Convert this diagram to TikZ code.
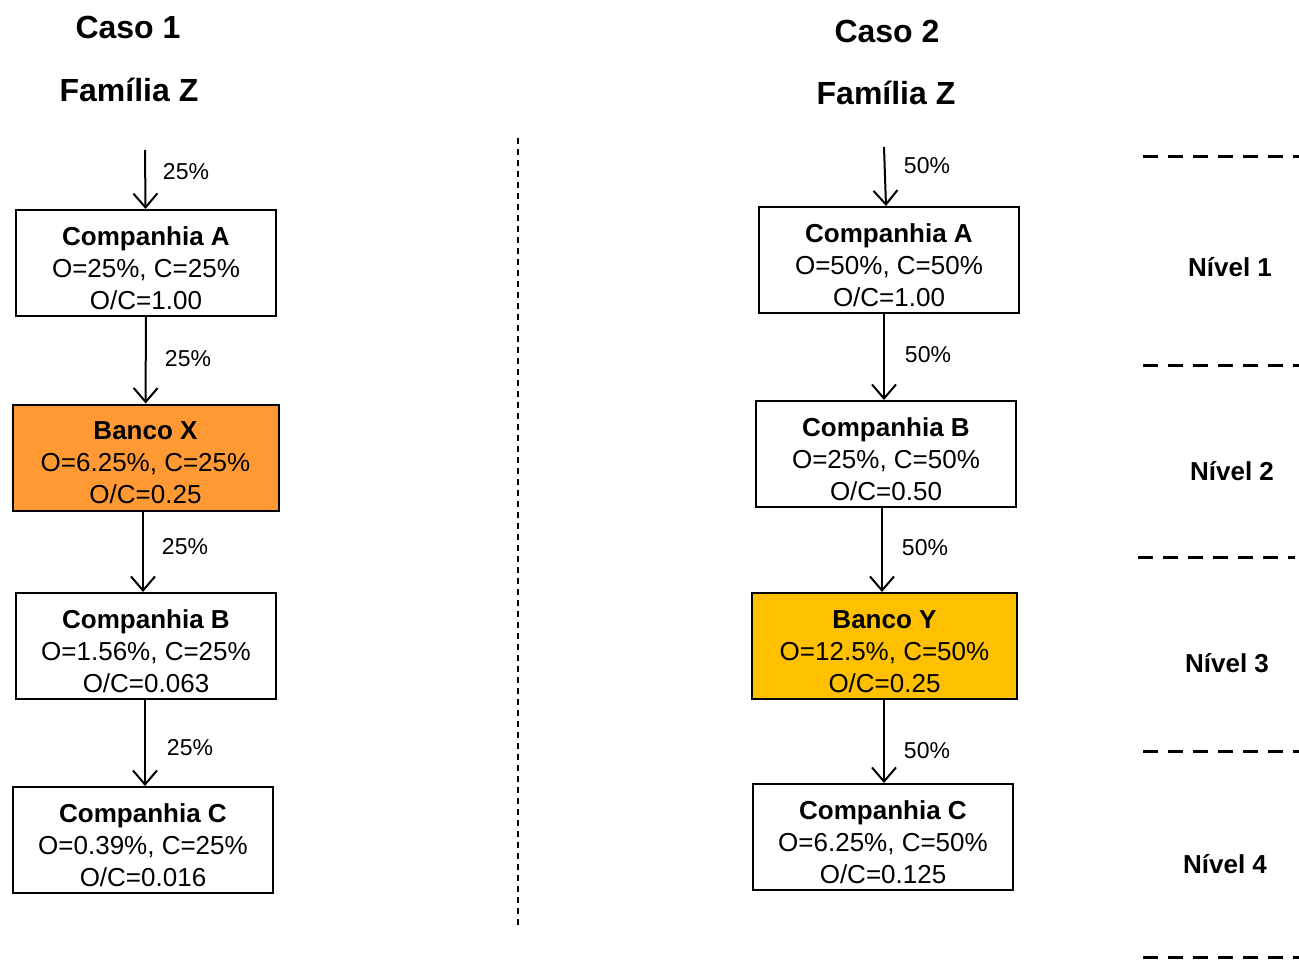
\documentclass[tikz,border=0pt]{standalone}
\usepackage{fontspec}
\setmainfont{Liberation Sans}
\usetikzlibrary{arrows.meta}
\definecolor{bancoorange}{RGB}{255,153,51}
\definecolor{bancoyellow}{RGB}{255,192,0}
% three centred lines, set a little below the middle of the box
\newcommand{\boxlines}[3]{\raisebox{-8pt}[\height][\depth]{\begin{tabular}{@{}c@{}}\textbf{#1}\\#2\\#3\end{tabular}}}
\begin{document}
\begin{tikzpicture}[x=1pt,y=-1pt,
  entity/.style={draw=black,line width=2pt,fill=white,minimum width=260pt,minimum height=106pt,
    inner sep=0pt,align=center,font=\fontsize{26}{32}\selectfont},
  wide/.style={minimum width=266pt},
  pct/.style={font=\fontsize{23}{27}\selectfont,inner sep=0pt},
  title/.style={font=\fontsize{32}{36}\selectfont\bfseries,inner sep=0pt},
  level/.style={font=\fontsize{26}{30}\selectfont\bfseries,inner sep=0pt},
  link/.style={line width=2pt,-{Straight Barb[length=14pt,width=24pt,line width=2pt]}},
  levelline/.style={line width=3pt,dash pattern=on 15pt off 10pt},
  divider/.style={line width=2pt,dash pattern=on 6pt off 5pt}]
\useasboundingbox (0,0) rectangle (1299,960);

% Case 1
\node[title] (t1) at (128,27) {Caso 1};
\node[title] (f1) at (129,90) {Família Z};
\coordinate (in1) at (145,150);
\node[entity] (a1) at (146,263) {\boxlines{Companhia A}{O=25\%, C=25\%}{O/C=1.00}};
\node[entity,wide,fill=bancoorange] (x1) at (145.5,457.5) {\boxlines{Banco X}{O=6.25\%, C=25\%}{O/C=0.25}};
\node[entity] (b1) at (146,646) {\boxlines{Companhia B}{O=1.56\%, C=25\%}{O/C=0.063}};
\node[entity] (c1) at (143,840) {\boxlines{Companhia C}{O=0.39\%, C=25\%}{O/C=0.016}};
\draw[link] (in1) -- (a1);
\draw[link] (a1) -- (x1);
\draw[link] (x1.south -| 143,0) -- (b1.north -| 143,0);
\draw[link] (b1.south -| 145,0) -- (c1.north -| 145,0);
\node[pct] (p11) at (186,172) {25\%};
\node[pct] (p12) at (188,359) {25\%};
\node[pct] (p13) at (185,547) {25\%};
\node[pct] (p14) at (190,748) {25\%};

% separator
\coordinate (d1) at (518,138);
\coordinate (d2) at (518,925);
\draw[divider] (d1) -- (d2);

% Case 2
\node[title] (t2) at (887,31) {Caso 2};
\node[title] (f2) at (886,93) {Família Z};
\coordinate (in2) at (884,147);
\node[entity] (a2) at (889,260) {\boxlines{Companhia A}{O=50\%, C=50\%}{O/C=1.00}};
\node[entity] (b2) at (886,454) {\boxlines{Companhia B}{O=25\%, C=50\%}{O/C=0.50}};
\node[entity,minimum width=265pt,fill=bancoyellow] (y2) at (884.5,646) {\boxlines{Banco Y}{O=12.5\%, C=50\%}{O/C=0.25}};
\node[entity] (c2) at (883,837) {\boxlines{Companhia C}{O=6.25\%, C=50\%}{O/C=0.125}};
\draw[link] (in2) -- (886,206);
\draw[link] (a2.south -| 884,0) -- (b2.north -| 884,0);
\draw[link] (b2.south -| 882,0) -- (y2.north -| 882,0);
\draw[link] (y2.south -| 884,0) -- (c2.north -| 884,0);
\node[pct] (p21) at (927,166) {50\%};
\node[pct] (p22) at (928,355) {50\%};
\node[pct] (p23) at (925,548) {50\%};
\node[pct] (p24) at (927,751) {50\%};

% levels
\coordinate (l1a) at (1143,157); \coordinate (l1b) at (1299,157);
\coordinate (l2a) at (1143,365); \coordinate (l2b) at (1299,365);
\coordinate (l3a) at (1138,557); \coordinate (l3b) at (1295,557);
\coordinate (l4a) at (1143,751); \coordinate (l4b) at (1299,751);
\coordinate (l5a) at (1143,957); \coordinate (l5b) at (1299,957);
\foreach \i in {1,...,5} \draw[levelline] (l\i a) -- (l\i b);
\node[level] (n1) at (1230,267) {Nível 1};
\node[level] (n2) at (1232,471) {Nível 2};
\node[level] (n3) at (1227,663) {Nível 3};
\node[level] (n4) at (1225,864) {Nível 4};
\end{tikzpicture}
\end{document}
